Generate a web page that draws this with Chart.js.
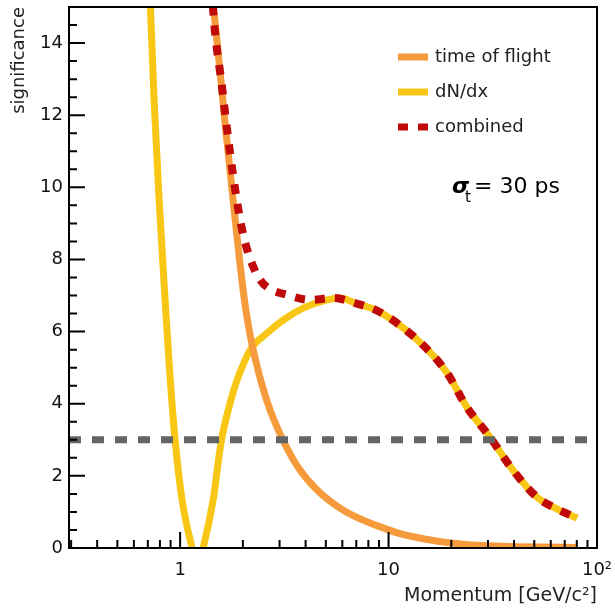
<!DOCTYPE html>
<html>
<head>
<meta charset="utf-8">
<script src="https://cdn.jsdelivr.net/npm/chart.js@4.4.1/dist/chart.umd.min.js"></script>
<style>
  html, body { margin: 0; padding: 0; background: #fff; }
  #wrap { width: 615px; height: 609px; }
</style>
</head>
<body>
<div id="wrap"><canvas id="sigChart" width="615" height="609"></canvas></div>
<script>
// momentum [GeV/c^2] and significance
const tofP   = [1.40, 1.444, 1.662, 1.795, 1.94, 2.05, 2.166, 2.289, 2.472, 2.70, 3.118, 3.67, 4.54, 6.05, 7.5, 9.4, 11, 13.7, 18, 28.4, 80.2];
const tofSig = [15.6, 15.0, 11.5, 9.65, 7.85, 6.74, 5.91, 5.27, 4.52, 3.83, 2.99, 2.25, 1.61, 1.05, 0.78, 0.56, 0.42, 0.29, 0.17, 0.07, 0.015];

const dedxP   = [0.71, 0.72, 0.75, 0.793, 0.847, 0.890, 0.946, 1.022, 1.142, 1.21, 1.289, 1.44, 1.573, 1.737, 1.877, 2.05, 2.215, 2.614, 3.118, 3.889, 5.06, 5.84, 7.0, 9.1, 14.6, 19.1, 23.7, 30.6, 39.5, 51.5, 64.4, 80.4];
const dedxSig = [15.6, 15.0, 12.42, 9.65, 6.88, 4.93, 2.99, 1.33, 0.0, -0.5, 0.0, 1.33, 2.94, 4.02, 4.66, 5.21, 5.57, 5.96, 6.32, 6.65, 6.88, 6.93, 6.78, 6.54, 5.63, 4.85, 3.91, 3.08, 2.16, 1.41, 1.08, 0.83];

const combP   = [1.42, 1.444, 1.584, 1.686, 1.802, 1.954, 2.073, 2.246, 2.41, 2.605, 3.30, 4.20, 5.42, 7.0, 9.1, 14.6, 19.1, 23.7, 30.6, 39.5, 51.5, 64.4, 80.4];
const combSig = [15.6, 14.83, 12.84, 11.53, 10.26, 9.01, 8.37, 7.79, 7.45, 7.24, 7.01, 6.88, 6.93, 6.78, 6.54, 5.63, 4.85, 3.91, 3.08, 2.16, 1.41, 1.08, 0.83];

const threshold = 3;

const xMin = 0.293, xMax = 100;
const xMajorTicks = [1, 10, 100];
const xTickLabels = ["1", "10", "10²"];
const xMinorTicks = [0.3, 0.4, 0.5, 0.6, 0.7, 0.8, 0.9, 2, 3, 4, 5, 6, 7, 8, 9, 20, 30, 40, 50, 60, 70, 80, 90];
const yMajorTicks = [0, 2, 4, 6, 8, 10, 12, 14];
const yMinorTicks = [0.5, 1, 1.5, 2.5, 3, 3.5, 4.5, 5, 5.5, 6.5, 7, 7.5, 8.5, 9, 9.5, 10.5, 11, 11.5, 12.5, 13, 13.5, 14.5];

const pts = (xs, ys) => xs.map((x, i) => ({ x: x, y: ys[i] }));

Chart.defaults.font.family = "'DejaVu Sans', sans-serif";
Chart.defaults.color = "#111";

// inward ROOT-style ticks plus the frame
const axisTicks = {
    id: "axisTicks",
    afterDatasetsDraw(chart) {
        const { ctx, chartArea: a, scales: { x, y } } = chart;
        ctx.save();
        ctx.strokeStyle = "#000";
        ctx.lineWidth = 2;
        ctx.beginPath();
        yMajorTicks.forEach(v => { const py = y.getPixelForValue(v); ctx.moveTo(a.left, py); ctx.lineTo(a.left + 16, py); });
        yMinorTicks.forEach(v => { const py = y.getPixelForValue(v); ctx.moveTo(a.left, py); ctx.lineTo(a.left + 8, py); });
        xMajorTicks.forEach(v => { const px = x.getPixelForValue(v); ctx.moveTo(px, a.bottom); ctx.lineTo(px, a.bottom - 16); });
        xMinorTicks.forEach(v => { const px = x.getPixelForValue(v); ctx.moveTo(px, a.bottom); ctx.lineTo(px, a.bottom - 8); });
        ctx.stroke();
        ctx.strokeRect(a.left, a.top, a.right - a.left, a.bottom - a.top);
        ctx.restore();
    }
};

// legend box and sigma_t note
const notes = {
    id: "notes",
    afterDraw(chart) {
        const { ctx, chartArea: a } = chart;
        const items = chart.data.datasets.filter(d => d.inLegend).sort((p, q) => p.legendRank - q.legendRank);
        ctx.save();
        const lx = a.left + 329, ty = a.top + 50;
        items.forEach((d, i) => {
            const yy = ty + i * 35;
            ctx.strokeStyle = d.borderColor;
            ctx.lineWidth = 7;
            ctx.setLineDash(d.borderDash || []);
            ctx.beginPath();
            ctx.moveTo(lx, yy);
            ctx.lineTo(lx + 30, yy);
            ctx.stroke();
            ctx.setLineDash([]);
            ctx.fillStyle = "#222";
            ctx.font = "18px 'DejaVu Sans'";
            ctx.textBaseline = "middle";
            ctx.fillText(d.label, lx + 37, yy);
        });
        const sx = a.left + 383, sy = a.top + 186;
        ctx.fillStyle = "#000";
        ctx.textBaseline = "alphabetic";
        ctx.font = "bold italic 22px 'DejaVu Sans'";
        ctx.fillText("σ", sx, sy);
        ctx.font = "15px 'DejaVu Sans'";
        ctx.fillText("t", sx + 13, sy + 9);
        ctx.font = "22px 'DejaVu Sans'";
        ctx.fillText("= 30 ps", sx + 22, sy);
        ctx.restore();
    }
};

const chart = new Chart(document.getElementById("sigChart").getContext("2d"), {
    type: "line",
    data: {
        datasets: [
            {
                label: "3 sigma",
                data: [{ x: xMin, y: threshold }, { x: xMax, y: threshold }],
                borderColor: "#646464",
                borderWidth: 7,
                borderDash: [12, 11],
                order: 0,
            },
            {
                label: "combined",
                data: pts(combP, combSig),
                borderColor: "#c00a0a",
                borderWidth: 8,
                borderDash: [10, 10],
                cubicInterpolationMode: "monotone",
                order: 1,
                inLegend: true,
                legendRank: 2,
            },
            {
                label: "time of flight",
                data: pts(tofP, tofSig),
                borderColor: "#f59b3c",
                borderWidth: 7,
                cubicInterpolationMode: "monotone",
                order: 2,
                inLegend: true,
                legendRank: 0,
            },
            {
                label: "dN/dx",
                data: pts(dedxP, dedxSig),
                borderColor: "#f8c614",
                borderWidth: 7,
                cubicInterpolationMode: "monotone",
                order: 3,
                inLegend: true,
                legendRank: 1,
            },
        ],
    },
    options: {
        responsive: false,
        animation: false,
        datasets: { line: { pointRadius: 0, clip: 0, fill: false } },
        layout: { padding: { top: 7, right: 18, left: 0, bottom: 0 } },
        plugins: {
            legend: { display: false },
            tooltip: { enabled: false },
        },
        scales: {
            x: {
                type: "logarithmic",
                min: xMin,
                max: xMax,
                afterBuildTicks: s => { s.ticks = xMajorTicks.map(v => ({ value: v })); },
                afterFit: s => { s.height = 61; s.paddingLeft = 0; s.paddingRight = 0; },
                grid: { display: false, drawTicks: false },
                border: { display: false },
                ticks: {
                    autoSkip: false,
                    maxRotation: 0,
                    padding: 12,
                    font: { size: 18 },
                    color: "#111",
                    callback: (v, i) => xTickLabels[i],
                },
                title: {
                    display: true,
                    text: "Momentum [GeV/c²]",
                    align: "end",
                    font: { size: 19 },
                    color: "#222",
                    padding: { top: 0, bottom: 2 },
                },
            },
            y: {
                type: "linear",
                min: 0,
                max: 15,
                afterBuildTicks: s => { s.ticks = yMajorTicks.map(v => ({ value: v })); },
                afterFit: s => { s.width = 69; s.paddingTop = 0; s.paddingBottom = 0; },
                grid: { display: false, drawTicks: false },
                border: { display: false },
                ticks: {
                    padding: 6,
                    font: { size: 18 },
                    color: "#111",
                },
                title: {
                    display: true,
                    text: "significance",
                    align: "end",
                    font: { size: 18 },
                    color: "#222",
                    padding: { top: 9, bottom: 0 },
                },
            },
        },
    },
    plugins: [axisTicks, notes],
});
</script>
</body>
</html>
